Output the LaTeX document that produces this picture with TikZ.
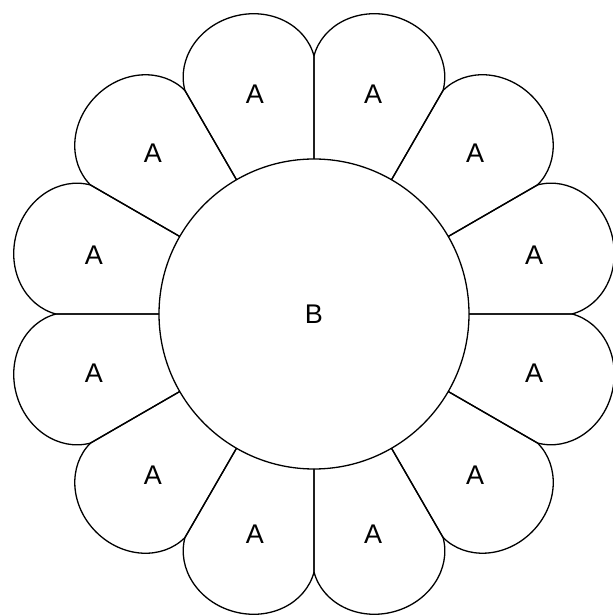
\documentclass[tikz,border=0pt]{standalone}
\usepackage{fontspec}
\setmainfont{Liberation Sans}
\begin{document}
\begin{tikzpicture}[x=1pt, y=1pt, line width=1.3pt,
    petal/.style={line join=round},
    lbl/.style={font=\fontsize{27}{32}\selectfont}]
  \useasboundingbox (0,0) rectangle (613,616);
  \coordinate (O) at (314,302);
  % twelve petals round the disc
  \foreach \t [count=\i] in {0,30,...,330} {
    \draw[petal, shift={(O)}, rotate=\t+15] (-15:155) -- (-15:258)
      arc[start angle=-90, end angle=90, x radius=59, y radius=66.8] -- (15:155);
    \path (O) ++(\t+15:228) node[lbl] (A\i) {A};
  }
  \draw (O) circle[radius=155];
  \node[lbl] (B) at (O) {B};
\end{tikzpicture}
\end{document}
